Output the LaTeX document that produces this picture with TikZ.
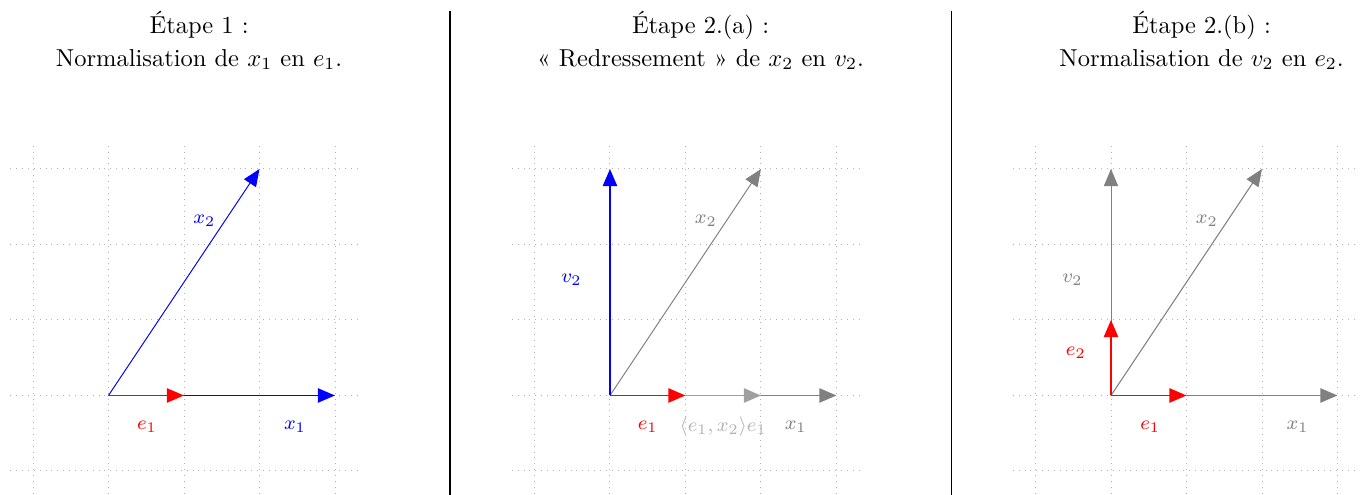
\documentclass[tikz,border=0pt]{standalone}
\usetikzlibrary{arrows.meta}
\begin{document}
\begin{tikzpicture}[x=1.0835cm,y=1.0835cm,
  gridline/.style={gray!60, line width=0.4pt, dotted},
  vec/.style={-{Triangle[length=7pt,width=5.8pt]}},
  thinvec/.style={vec, line width=0.4pt},
  thickvec/.style={vec, line width=0.8pt},
  lab/.style={font=\footnotesize, inner sep=1pt},
  ttl/.style={align=center, font=\fontsize{10}{13.2}\selectfont, anchor=base, inner sep=0pt},
  sepline/.style={black, line width=0.5pt}]
\useasboundingbox (-1.437,-1.318) rectangle (16.576,5.238);

% ---------- Panel 1 ----------
\begin{scope}
  \draw[gridline, step=1.0835cm] (-1.3,-1.3) grid (3.3,3.3);
  \coordinate (O1) at (0,0);
  \coordinate (X1a) at (3,0);
  \coordinate (X2a) at (2,3);
  \coordinate (E1a) at (1,0);
  \draw[thickvec, blue] (O1) -- (X1a);
  \draw[thinvec, blue] (O1) -- (X2a);
  \draw[thickvec, red] (O1) -- (E1a);
  \node[lab, red]  (le1a) at (0.51,-0.41) {$e_1$};
  \node[lab, blue] (lx1a) at (2.47,-0.41) {$x_1$};
  \node[lab, blue] (lx2a) at (1.27,2.31) {$x_2$};
  \node[ttl] (t1) at (1.2,4.36) {Étape 1 :\\Normalisation de $x_1$ en $e_1$.};
\end{scope}

% ---------- Panel 2 ----------
\begin{scope}[shift={(6.642,0)}]
  \draw[gridline, step=1.0835cm] (-1.3,-1.3) grid (3.3,3.3);
  \coordinate (O2) at (0,0);
  \coordinate (X1b) at (3,0);
  \coordinate (X2b) at (2,3);
  \coordinate (Pb) at (2,0);
  \coordinate (E1b) at (1,0);
  \coordinate (V2b) at (0,3);
  \draw[thickvec, gray] (O2) -- (X1b);
  \draw[thickvec, gray!75] (O2) -- (Pb);
  \draw[thinvec, gray] (O2) -- (X2b);
  \draw[thickvec, blue] (O2) -- (V2b);
  \draw[thickvec, red] (O2) -- (E1b);
  \node[lab, red]  (le1b) at (0.50,-0.41) {$e_1$};
  \node[lab, gray!60] (lpb) at (1.50,-0.41) {$\langle e_1, x_2\rangle e_1$};
  \node[lab, gray] (lx1b) at (2.46,-0.41) {$x_1$};
  \node[lab, gray] (lx2b) at (1.27,2.31) {$x_2$};
  \node[lab, blue] (lv2b) at (-0.51,1.53) {$v_2$};
  \node[ttl] (t2) at (1.2,4.36) {Étape 2.(a) :\\« Redressement » de $x_2$ en $v_2$.};
\end{scope}

% ---------- Panel 3 ----------
\begin{scope}[shift={(13.278,0)}]
  \draw[gridline, step=1.0835cm] (-1.3,-1.3) grid (3.3,3.3);
  \coordinate (O3) at (0,0);
  \coordinate (X1c) at (3,0);
  \coordinate (X2c) at (2,3);
  \coordinate (E1c) at (1,0);
  \coordinate (V2c) at (0,3);
  \coordinate (E2c) at (0,1);
  \draw[thickvec, gray] (O3) -- (X1c);
  \draw[thinvec, gray] (O3) -- (X2c);
  \draw[thinvec, gray] (O3) -- (V2c);
  \draw[thickvec, red] (O3) -- (E2c);
  \draw[thickvec, red] (O3) -- (E1c);
  \node[lab, red]  (le1c) at (0.52,-0.41) {$e_1$};
  \node[lab, gray] (lx1c) at (2.47,-0.41) {$x_1$};
  \node[lab, gray] (lx2c) at (1.27,2.31) {$x_2$};
  \node[lab, gray] (lv2c) at (-0.51,1.53) {$v_2$};
  \node[lab, red]  (le2c) at (-0.465,0.57) {$e_2$};
  \node[ttl] (t3) at (1.2,4.36) {Étape 2.(b) :\\Normalisation de $v_2$ en $e_2$.};
\end{scope}

% ---------- Separators ----------
\coordinate (s1t) at (4.523,5.096);
\coordinate (s1b) at (4.523,-1.318);
\coordinate (s2t) at (11.168,5.096);
\coordinate (s2b) at (11.168,-1.318);
\draw[sepline] (s1t) -- (s1b);
\draw[sepline] (s2t) -- (s2b);
\end{tikzpicture}
\end{document}
